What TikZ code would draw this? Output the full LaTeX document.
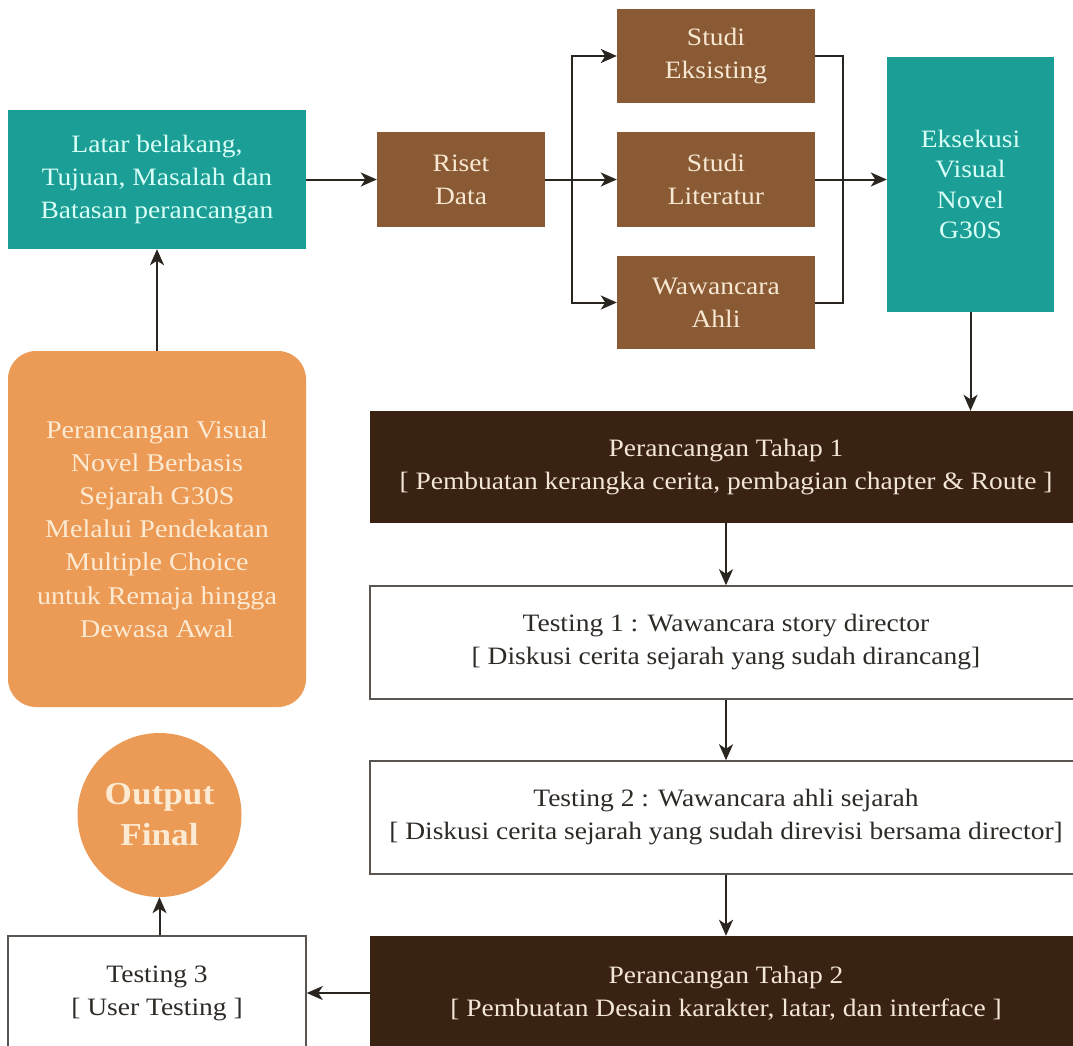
\documentclass[tikz,border=0pt]{standalone}
\usepackage{fontspec}
\setmainfont{Liberation Serif}[FakeStretch=1.1]
\usetikzlibrary{arrows.meta,calc}
\definecolor{tealc}{HTML}{1B9E96}
\definecolor{tealtxt}{HTML}{D8FFF6}
\definecolor{brownc}{HTML}{8A5A34}
\definecolor{browntxt}{HTML}{F7E8D3}
\definecolor{darkc}{HTML}{3A2213}
\definecolor{darktxt}{HTML}{F3E6D6}
\definecolor{orangec}{HTML}{EC9B57}
\definecolor{orangetxt}{HTML}{FCEAD2}
\definecolor{linec}{HTML}{2B2520}
\definecolor{borderc}{HTML}{5A5550}
\definecolor{txtc}{HTML}{2E2A26}
\begin{document}
\begin{tikzpicture}[x=1pt,y=-1pt,
  basebox/.style={rectangle, inner sep=0pt, align=center, font=\fontsize{25}{33}\selectfont},
  tealbox/.style={basebox, fill=tealc, text=tealtxt},
  brownbox/.style={basebox, fill=brownc, text=browntxt},
  darkbox/.style={basebox, fill=darkc, text=darktxt},
  whitebox/.style={basebox, fill=white, draw=borderc, line width=1.5pt, text=txtc},
  orangebox/.style={basebox, fill=orangec, text=orangetxt, rounded corners=28pt},
  arr/.style={draw=linec, line width=2pt, -{Stealth[length=16pt,width=14pt,inset=4.5pt]}},
  plain/.style={draw=linec, line width=2pt}]
\useasboundingbox (0,0) rectangle (1073,1046);
\fill[white] (0,0) rectangle (1073,1046);

% top row
\node[tealbox, minimum width=298pt, minimum height=139pt] (latar) at (157,179.5)
  {Latar belakang,\\Tujuan, Masalah dan\\Batasan perancangan};
\node[brownbox, minimum width=168pt, minimum height=95pt] (riset) at (461,179.5)
  {Riset\\Data};
\node[brownbox, minimum width=198pt, minimum height=94pt] (studie) at (716,56)
  {Studi\\Eksisting};
\node[brownbox, minimum width=198pt, minimum height=95pt] (studil) at (716,179.5)
  {Studi\\Literatur};
\node[brownbox, minimum width=198pt, minimum height=93pt] (wawan) at (716,302.5)
  {Wawancara\\Ahli};
\node[tealbox, minimum width=167pt, minimum height=255pt, font=\fontsize{25}{30.5}\selectfont] (eks) at (970.5,184.5)
  {Eksekusi\\Visual\\Novel\\G30S};

% left column
\node[orangebox, minimum width=298pt, minimum height=356pt, font=\fontsize{25.5}{33.2}\selectfont] (judul) at (157,529)
  {Perancangan Visual\\Novel Berbasis\\Sejarah G30S\\Melalui Pendekatan\\Multiple Choice\\untuk Remaja hingga\\Dewasa Awal};
\node[circle, fill=orangec, text=orangetxt, minimum size=164pt, inner sep=0pt, align=center,
  font=\bfseries\fontsize{32}{41}\selectfont] (out) at (159.5,815) {Output\\Final};
\node[whitebox, minimum width=298pt, minimum height=114pt] (t3) at (157,993)
  {Testing 3\\{[} User Testing {]}};

% right column
\node[darkbox, minimum width=712pt, minimum height=112pt] (p1) at (726,467)
  {Perancangan Tahap 1\\{[} Pembuatan kerangka cerita, pembagian chapter \& Route {]}};
\node[whitebox, minimum width=712pt, minimum height=113pt] (t1) at (726,642.5)
  {Testing 1 : Wawancara story director\\{[} Diskusi cerita sejarah yang sudah dirancang{]}};
\node[whitebox, minimum width=712pt, minimum height=113pt] (t2) at (726,817.5)
  {Testing 2 : Wawancara ahli sejarah\\{[} Diskusi cerita sejarah yang sudah direvisi bersama director{]}};
\node[darkbox, minimum width=712pt, minimum height=114pt] (p2) at (726,993)
  {Perancangan Tahap 2\\{[} Pembuatan Desain karakter, latar, dan interface {]}};

% connectors
\coordinate (bl) at (572,179.5);
\coordinate (br) at (843,179.5);
\draw[arr] (latar) -- (riset);
\draw[arr] (riset.east) -- (studil.west);
\draw[arr] (bl) |- (studie.west);
\draw[arr] (bl) |- (wawan.west);
\draw[plain] (studie.east) -| (br);
\draw[plain] (wawan.east) -| (br);
\draw[arr] (studil.east) -- (studil.east -| eks.west);
\draw[arr] (eks.south) -- (eks.south |- p1.north);
\draw[arr] (p1) -- (t1);
\draw[arr] (t1) -- (t2);
\draw[arr] (t2) -- (p2);
\draw[arr] (p2.west |- t3.east) -- (t3.east);
\draw[arr] (t3.north -| out.south) -- (out.south);
\draw[arr] (judul.north) -- (latar.south);
\end{tikzpicture}
\end{document}
